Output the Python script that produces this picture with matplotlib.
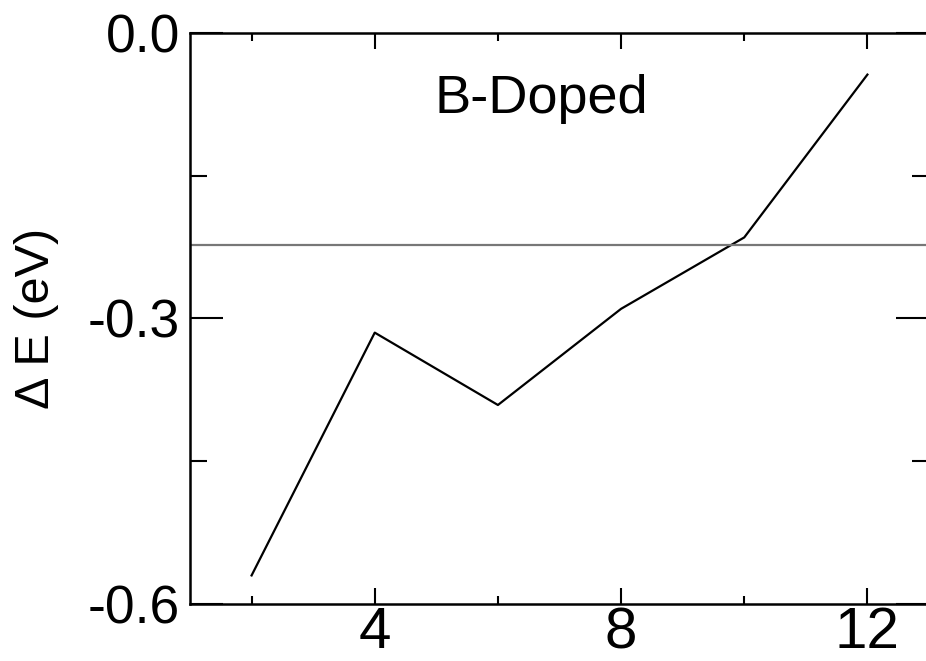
import matplotlib.pyplot as plt
from matplotlib.ticker import MultipleLocator

plt.rcParams['font.family'] = ['Liberation Sans', 'DejaVu Sans']

# data
n = [2, 4, 6, 8, 10, 12]
dE = [-0.570, -0.315, -0.391, -0.290, -0.215, -0.044]
ref_level = -0.223

fig = plt.figure(figsize=(9.26, 6.61), dpi=100)
ax = fig.add_axes([190 / 926, 57 / 661, 739 / 926, 571.3 / 661])

ax.plot(n, dE, color='black', linewidth=1.6)
ax.axhline(ref_level, color='#777777', linewidth=1.6)

ax.set_xlim(1, 13)
ax.set_ylim(-0.6, 0.0)

ax.xaxis.set_major_locator(MultipleLocator(4))
ax.xaxis.set_minor_locator(MultipleLocator(2))
ax.yaxis.set_minor_locator(MultipleLocator(0.15))
ax.set_yticks([0.0, -0.3, -0.6])
ax.set_yticklabels(['0.0', '-0.3', '-0.6'])

ax.tick_params(axis='both', which='both', direction='in', top=True, right=True,
               width=1.5, colors='black')
ax.tick_params(axis='x', which='major', length=11.5, pad=1.5, labelsize=42)
ax.tick_params(axis='x', which='minor', length=6)
ax.tick_params(axis='y', which='major', length=24, pad=7, labelsize=38.5)
ax.tick_params(axis='y', which='minor', length=12)

for s in ax.spines.values():
    s.set_linewidth(1.8)

ax.set_ylabel('Δ E (eV)', fontsize=35, labelpad=21)
ax.text(6.71, -0.070, 'B-Doped', fontsize=39, ha='center', va='center')

fig.savefig('out.png', dpi=100)
